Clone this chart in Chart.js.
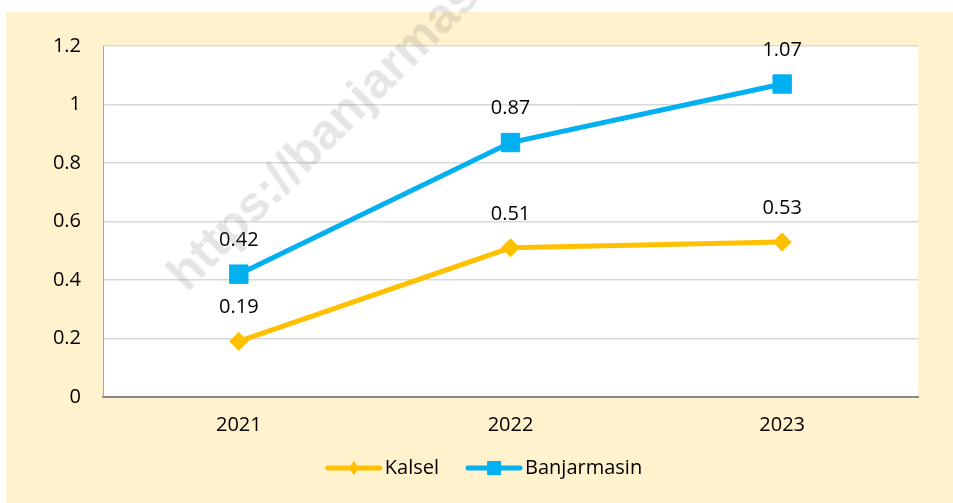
<!DOCTYPE html>
<html>
<head>
<meta charset="utf-8">
<script src="https://cdn.jsdelivr.net/npm/chart.js@4"></script>
<style>
  html, body { margin: 0; padding: 0; background: #fff; width: 953px; height: 503px; overflow: hidden; }
  #box { position: absolute; left: 6px; top: 12px; width: 947px; height: 491px; background: #FFF2CC; }
  #watermark {
    position: absolute; left: 190px; top: 246px; height: 50px; line-height: 50px;
    font: bold 50px 'Liberation Sans', sans-serif; color: rgba(110, 110, 110, 0.18);
    white-space: nowrap; transform: rotate(-45deg); transform-origin: left bottom; pointer-events: none;
  }
</style>
</head>
<body>
<div id="box"><canvas id="chart" width="947" height="491"></canvas></div>
<div id="watermark">https://banjarmasinkota.bps.go.id</div>
<script>
'use strict';

let years = ['2021', '2022', '2023'];
let kalsel = [0.19, 0.51, 0.53];
let banjarmasin = [0.42, 0.87, 1.07];
let yTickValues = [0, 0.2, 0.4, 0.6, 0.8, 1, 1.2];

let FONT = "'Open Sans', sans-serif";

// white plot area on the cream background
let plotBg = {
  id: 'plotBg',
  beforeDraw(chart) {
    let a = chart.chartArea;
    let ctx = chart.ctx;
    ctx.save();
    ctx.fillStyle = '#fff';
    ctx.fillRect(a.left, a.top, a.right - a.left, a.bottom - a.top);
    ctx.restore();
  }
};

// value labels above each point
let valueLabels = {
  id: 'valueLabels',
  afterDatasetsDraw(chart) {
    let ctx = chart.ctx;
    ctx.save();
    ctx.font = '20px ' + FONT;
    ctx.fillStyle = '#000';
    ctx.textAlign = 'center';
    ctx.textBaseline = 'middle';
    chart.data.datasets.forEach(function (ds, i) {
      chart.getDatasetMeta(i).data.forEach(function (pt, j) {
        ctx.fillText(String(ds.data[j]), pt.x, pt.y - 34);
      });
    });
    ctx.restore();
  }
};

// legend: line with marker, then name
let lineLegend = {
  id: 'lineLegend',
  afterDraw(chart) {
    let ctx = chart.ctx;
    ctx.save();
    ctx.font = '20px ' + FONT;
    let items = chart.data.datasets.map(function (ds) {
      return { ds: ds, w: 56 + 4 + ctx.measureText(ds.label).width };
    });
    let total = items.reduce(function (s, it) { return s + it.w; }, 0) + 26 * (items.length - 1);
    let x = chart.width / 2 + 5 - total / 2;
    let y = chart.chartArea.bottom + 71;
    items.forEach(function (it) {
      let c = it.ds.borderColor;
      ctx.strokeStyle = c;
      ctx.lineWidth = 5;
      ctx.lineCap = 'round';
      ctx.beginPath();
      ctx.moveTo(x + 2, y);
      ctx.lineTo(x + 54, y);
      ctx.stroke();
      ctx.fillStyle = c;
      let cx = x + 28;
      if (it.ds.pointStyle === 'rect') {
        ctx.fillRect(cx - 7, y - 7, 14, 14);
      } else {
        ctx.beginPath();
        ctx.moveTo(cx, y - 7);
        ctx.lineTo(cx + 5, y);
        ctx.lineTo(cx, y + 7);
        ctx.lineTo(cx - 5, y);
        ctx.closePath();
        ctx.fill();
      }
      ctx.fillStyle = '#000';
      ctx.textAlign = 'left';
      ctx.textBaseline = 'middle';
      ctx.fillText(it.ds.label, x + 59, y);
      x += it.w + 26;
    });
    ctx.restore();
  }
};

let ctx = document.getElementById('chart').getContext('2d');
let myChart = new Chart(ctx, {
  type: 'line',
  data: {
    labels: years,
    datasets: [{
      label: 'Kalsel',
      data: kalsel,
      borderColor: '#FFC000',
      backgroundColor: '#FFC000',
      borderWidth: 5,
      pointStyle: 'rectRot',
      pointRadius: 9,
      pointBorderWidth: 1,
      tension: 0
    }, {
      label: 'Banjarmasin',
      data: banjarmasin,
      borderColor: '#00B0F0',
      backgroundColor: '#00B0F0',
      borderWidth: 5,
      pointStyle: 'rect',
      pointRadius: 13,
      pointBorderWidth: 1,
      tension: 0
    }]
  },
  options: {
    responsive: false,
    animation: false,
    layout: { padding: { left: 0, right: 35, top: 31, bottom: 56 } },
    plugins: {
      legend: { display: false },
      tooltip: { enabled: false }
    },
    scales: {
      x: {
        offset: true,
        grid: { display: false, drawTicks: false },
        border: { display: true, color: '#898989', width: 2 },
        ticks: { color: '#000', font: { family: FONT, size: 20 }, padding: 16 },
        afterFit(scale) { scale.height = 50; }
      },
      y: {
        min: 0,
        max: 1.2,
        afterBuildTicks(scale) {
          scale.ticks = yTickValues.map(function (v) { return { value: v }; });
        },
        grid: { color: '#D9D9D9', lineWidth: 1.5, drawTicks: false },
        border: { display: true, color: '#A6A6A6', width: 1 },
        ticks: {
          color: '#000',
          font: { family: FONT, size: 20 },
          padding: 22,
          callback: function (v) { return String(v); }
        },
        afterFit(scale) { scale.width = 97; }
      }
    }
  },
  plugins: [plotBg, valueLabels, lineLegend]
});
</script>
</body>
</html>
